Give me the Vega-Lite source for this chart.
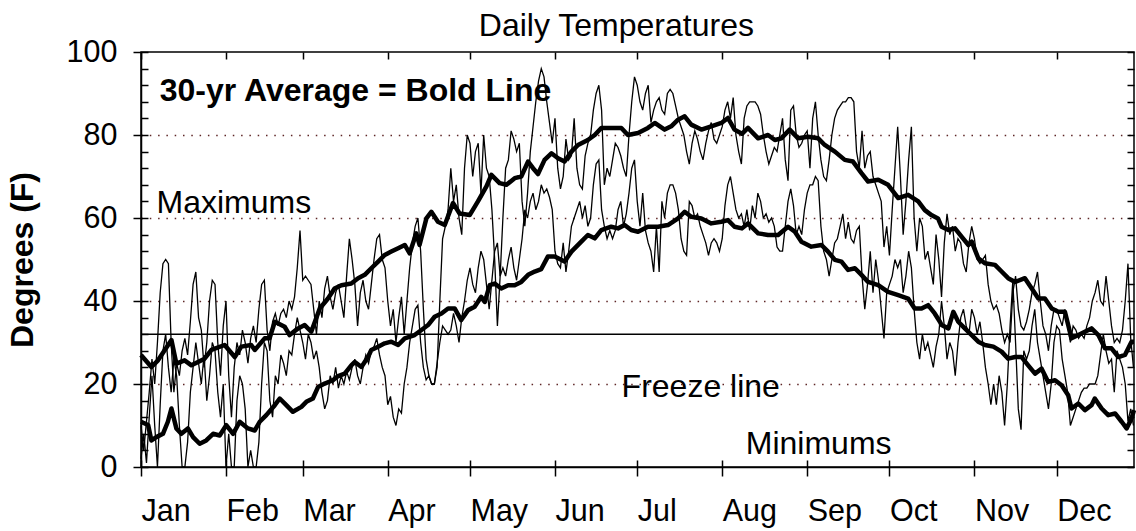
{
"$schema":"https://vega.github.io/schema/vega-lite/v6.json",
"width":993,"height":415,
"autosize":"none",
"padding":{"left":141,"top":52,"right":2,"bottom":64},
"background":"white",
"config":{"font":"Liberation Sans","view":{"stroke":"black","strokeWidth":1.5},"axis":{"domainColor":"black","tickColor":"black","labelColor":"black","titleColor":"black","domainWidth":1.5,"tickWidth":1.5,"grid":false}},
"datasets":{
"maxAvg":[{"d":0,"t":27.0},{"d":3.8,"t":24.1},{"d":6.2,"t":25.7},{"d":11.1,"t":30.6},{"d":12.9,"t":24.9},{"d":15.9,"t":25.7},{"d":18.4,"t":24.5},{"d":20.8,"t":25.3},{"d":23.2,"t":26.1},{"d":25.7,"t":28.2},{"d":30.5,"t":29.4},{"d":34.2,"t":26.5},{"d":36.6,"t":29.0},{"d":40.2,"t":29.4},{"d":41.5,"t":28.2},{"d":45.1,"t":31.0},{"d":46.9,"t":31.0},{"d":48.8,"t":35.0},{"d":52.4,"t":33.8},{"d":54.2,"t":31.8},{"d":57.3,"t":33.4},{"d":59.7,"t":34.2},{"d":62.1,"t":32.6},{"d":65.2,"t":38.2},{"d":68.2,"t":40.6},{"d":70.6,"t":43.0},{"d":73.1,"t":43.8},{"d":76.7,"t":44.2},{"d":79.2,"t":45.5},{"d":81.6,"t":46.3},{"d":84.0,"t":47.9},{"d":86.5,"t":49.5},{"d":88.9,"t":51.1},{"d":91.3,"t":51.9},{"d":93.8,"t":52.7},{"d":96.2,"t":53.5},{"d":98.0,"t":51.5},{"d":100.4,"t":56.3},{"d":101.6,"t":53.5},{"d":104.1,"t":59.9},{"d":105.9,"t":61.5},{"d":108.3,"t":59.1},{"d":110.8,"t":58.3},{"d":113.8,"t":63.6},{"d":116.2,"t":61.1},{"d":119.9,"t":60.7},{"d":122.9,"t":64.0},{"d":126.0,"t":67.6},{"d":127.8,"t":70.4},{"d":130.8,"t":68.4},{"d":133.3,"t":68.0},{"d":136.3,"t":69.6},{"d":138.7,"t":70.0},{"d":141.2,"t":73.6},{"d":143.0,"t":72.0},{"d":144.8,"t":70.6},{"d":147.2,"t":74.0},{"d":149.7,"t":75.6},{"d":152.1,"t":74.4},{"d":154.5,"t":73.6},{"d":157.0,"t":76.0},{"d":159.4,"t":77.6},{"d":163.0,"t":78.8},{"d":165.5,"t":80.0},{"d":167.9,"t":81.7},{"d":171.5,"t":81.7},{"d":175.2,"t":81.7},{"d":177.6,"t":80.0},{"d":181.3,"t":80.5},{"d":184.9,"t":81.7},{"d":187.4,"t":82.9},{"d":191.0,"t":81.3},{"d":193.4,"t":82.1},{"d":195.9,"t":83.7},{"d":198.3,"t":84.5},{"d":200.7,"t":82.5},{"d":204.4,"t":81.3},{"d":208.0,"t":82.1},{"d":211.7,"t":82.9},{"d":214.1,"t":84.1},{"d":216.5,"t":81.3},{"d":219.2,"t":80.3},{"d":221.4,"t":81.7},{"d":225.1,"t":79.2},{"d":228.7,"t":80.0},{"d":231.2,"t":78.8},{"d":233.6,"t":79.2},{"d":236.6,"t":81.3},{"d":239.7,"t":79.2},{"d":243.3,"t":79.6},{"d":247.0,"t":79.2},{"d":249.4,"t":77.6},{"d":253.1,"t":76.0},{"d":256.7,"t":74.0},{"d":259.7,"t":73.6},{"d":262.8,"t":70.8},{"d":265.2,"t":68.8},{"d":268.9,"t":69.2},{"d":272.5,"t":68.0},{"d":276.2,"t":64.8},{"d":279.8,"t":65.6},{"d":283.5,"t":64.0},{"d":285.9,"t":61.9},{"d":288.3,"t":60.7},{"d":290.7,"t":59.9},{"d":292.0,"t":57.9},{"d":294.5,"t":57.1},{"d":296.9,"t":57.5},{"d":299.3,"t":55.5},{"d":301.8,"t":53.5},{"d":303.0,"t":54.3},{"d":305.4,"t":50.3},{"d":307.8,"t":49.1},{"d":311.5,"t":48.7},{"d":313.9,"t":47.1},{"d":316.3,"t":45.5},{"d":318.8,"t":44.6},{"d":322.4,"t":45.5},{"d":324.9,"t":43.0},{"d":327.3,"t":40.6},{"d":329.7,"t":40.6},{"d":332.2,"t":38.2},{"d":334.6,"t":37.4},{"d":337.0,"t":37.4},{"d":338.2,"t":34.2},{"d":339.4,"t":31.0},{"d":341.9,"t":31.8},{"d":344.3,"t":32.6},{"d":346.7,"t":33.4},{"d":349.2,"t":31.8},{"d":351.6,"t":28.6},{"d":354.0,"t":28.6},{"d":356.5,"t":26.5},{"d":358.9,"t":27.0},{"d":361.3,"t":30.2},{"d":362.2,"t":30.2}],
"minAvg":[{"d":0,"t":10.9},{"d":2.6,"t":10.1},{"d":3.8,"t":6.4},{"d":5.6,"t":7.2},{"d":8.0,"t":8.0},{"d":9.8,"t":10.9},{"d":11.1,"t":14.1},{"d":12.9,"t":9.3},{"d":14.7,"t":8.0},{"d":17.1,"t":9.3},{"d":19.0,"t":7.2},{"d":21.4,"t":5.6},{"d":23.8,"t":6.4},{"d":26.3,"t":8.0},{"d":28.7,"t":7.6},{"d":31.1,"t":10.1},{"d":33.6,"t":8.0},{"d":36.0,"t":10.9},{"d":39.0,"t":9.3},{"d":41.5,"t":8.8},{"d":43.3,"t":10.9},{"d":45.7,"t":12.5},{"d":48.8,"t":14.9},{"d":50.6,"t":16.5},{"d":53.0,"t":14.9},{"d":55.4,"t":13.3},{"d":58.5,"t":14.5},{"d":60.3,"t":15.7},{"d":62.7,"t":16.5},{"d":64.6,"t":19.3},{"d":67.0,"t":20.1},{"d":70.0,"t":20.9},{"d":71.9,"t":21.9},{"d":74.3,"t":22.5},{"d":76.7,"t":24.5},{"d":78.0,"t":25.3},{"d":80.4,"t":24.1},{"d":82.8,"t":26.5},{"d":84.0,"t":28.2},{"d":86.5,"t":29.0},{"d":88.9,"t":29.8},{"d":91.3,"t":30.2},{"d":93.8,"t":29.4},{"d":96.2,"t":31.0},{"d":99.8,"t":31.8},{"d":102.3,"t":33.0},{"d":104.7,"t":34.2},{"d":107.1,"t":36.2},{"d":109.6,"t":37.0},{"d":112.0,"t":38.2},{"d":114.4,"t":38.2},{"d":116.8,"t":35.4},{"d":119.3,"t":37.8},{"d":121.7,"t":38.6},{"d":124.1,"t":41.0},{"d":125.4,"t":39.8},{"d":127.2,"t":43.8},{"d":129.0,"t":44.2},{"d":131.4,"t":43.0},{"d":133.9,"t":43.8},{"d":136.3,"t":43.8},{"d":138.7,"t":44.6},{"d":141.2,"t":46.3},{"d":143.6,"t":47.1},{"d":146.0,"t":47.7},{"d":148.4,"t":50.7},{"d":150.9,"t":50.7},{"d":154.5,"t":49.5},{"d":157.0,"t":51.9},{"d":160.6,"t":54.3},{"d":163.0,"t":55.9},{"d":165.5,"t":55.1},{"d":167.9,"t":57.1},{"d":171.5,"t":57.9},{"d":174.0,"t":57.5},{"d":176.4,"t":58.3},{"d":178.8,"t":57.1},{"d":181.3,"t":56.7},{"d":184.9,"t":57.9},{"d":188.6,"t":57.9},{"d":192.2,"t":58.3},{"d":195.9,"t":59.9},{"d":198.3,"t":61.5},{"d":200.7,"t":60.3},{"d":204.4,"t":59.9},{"d":208.0,"t":58.7},{"d":211.7,"t":59.1},{"d":214.1,"t":59.5},{"d":216.5,"t":57.9},{"d":219.2,"t":57.5},{"d":221.4,"t":58.7},{"d":225.1,"t":56.3},{"d":228.7,"t":55.9},{"d":232.4,"t":55.9},{"d":236.0,"t":57.9},{"d":238.5,"t":56.7},{"d":240.9,"t":54.3},{"d":244.5,"t":53.1},{"d":248.2,"t":53.5},{"d":250.6,"t":51.9},{"d":253.1,"t":49.9},{"d":255.5,"t":49.5},{"d":257.9,"t":47.5},{"d":260.4,"t":47.9},{"d":262.8,"t":46.3},{"d":265.2,"t":44.6},{"d":268.9,"t":43.8},{"d":272.5,"t":42.2},{"d":276.2,"t":41.4},{"d":279.8,"t":40.6},{"d":282.2,"t":38.2},{"d":284.7,"t":38.2},{"d":287.1,"t":39.0},{"d":289.5,"t":37.0},{"d":291.4,"t":35.0},{"d":292.0,"t":34.2},{"d":294.5,"t":33.4},{"d":296.3,"t":37.4},{"d":298.1,"t":35.0},{"d":300.5,"t":33.4},{"d":303.0,"t":31.8},{"d":305.4,"t":30.2},{"d":307.8,"t":29.4},{"d":310.9,"t":29.0},{"d":313.9,"t":27.8},{"d":316.3,"t":26.1},{"d":318.8,"t":26.5},{"d":321.2,"t":26.5},{"d":323.6,"t":24.5},{"d":326.1,"t":22.5},{"d":328.5,"t":23.7},{"d":330.9,"t":20.5},{"d":333.4,"t":20.9},{"d":335.8,"t":19.7},{"d":338.2,"t":17.3},{"d":339.4,"t":14.1},{"d":341.9,"t":15.3},{"d":344.3,"t":13.7},{"d":346.7,"t":14.9},{"d":347.9,"t":16.5},{"d":350.4,"t":14.1},{"d":352.8,"t":12.5},{"d":355.3,"t":12.9},{"d":357.7,"t":10.9},{"d":359.5,"t":9.3},{"d":361.3,"t":11.7},{"d":362.2,"t":13.7}],
"maxDay":[{"d":0,"t":10},{"d":1,"t":4},{"d":2,"t":11},{"d":3,"t":18},{"d":4,"t":26},{"d":5,"t":20},{"d":6,"t":30},{"d":7,"t":42},{"d":8,"t":49},{"d":9,"t":50},{"d":10,"t":49},{"d":11,"t":30},{"d":12,"t":18},{"d":13,"t":25},{"d":14,"t":22},{"d":15,"t":28},{"d":16,"t":31},{"d":17,"t":27},{"d":18,"t":35},{"d":19,"t":44},{"d":20,"t":47},{"d":21,"t":36},{"d":22,"t":33},{"d":23,"t":24},{"d":24,"t":30},{"d":25,"t":40},{"d":26,"t":45},{"d":27,"t":44},{"d":28,"t":30},{"d":29,"t":22},{"d":30,"t":34},{"d":31,"t":40},{"d":32,"t":22},{"d":33,"t":12},{"d":34,"t":24},{"d":35,"t":30},{"d":36,"t":27},{"d":37,"t":33},{"d":38,"t":30},{"d":39,"t":25},{"d":40,"t":31},{"d":41,"t":34},{"d":42,"t":30},{"d":43,"t":38},{"d":44,"t":44},{"d":45,"t":45},{"d":46,"t":33},{"d":47,"t":28},{"d":48,"t":35},{"d":49,"t":37},{"d":50,"t":34},{"d":51,"t":37},{"d":52,"t":38},{"d":53,"t":36},{"d":54,"t":40},{"d":55,"t":38},{"d":56,"t":41},{"d":57,"t":48},{"d":58,"t":57},{"d":59,"t":45},{"d":60,"t":46},{"d":61,"t":45},{"d":62,"t":44},{"d":63,"t":38},{"d":64,"t":32},{"d":65,"t":40},{"d":66,"t":36},{"d":67,"t":43},{"d":68,"t":46},{"d":69,"t":41},{"d":70,"t":38},{"d":71,"t":42},{"d":72,"t":44},{"d":73,"t":40},{"d":74,"t":36},{"d":75,"t":46},{"d":76,"t":55},{"d":77,"t":50},{"d":78,"t":44},{"d":79,"t":34},{"d":80,"t":42},{"d":81,"t":45},{"d":82,"t":40},{"d":83,"t":38},{"d":84,"t":44},{"d":85,"t":50},{"d":86,"t":55},{"d":87,"t":56},{"d":88,"t":50},{"d":89,"t":48},{"d":90,"t":40},{"d":91,"t":34},{"d":92,"t":38},{"d":93,"t":30},{"d":94,"t":36},{"d":95,"t":41},{"d":96,"t":32},{"d":97,"t":40},{"d":98,"t":48},{"d":99,"t":54},{"d":100,"t":58},{"d":101,"t":60},{"d":102,"t":52},{"d":103,"t":38},{"d":104,"t":26},{"d":105,"t":22},{"d":106,"t":20},{"d":107,"t":20},{"d":108,"t":24},{"d":109,"t":40},{"d":110,"t":55},{"d":111,"t":58},{"d":112,"t":62},{"d":113,"t":72},{"d":114,"t":64},{"d":115,"t":68},{"d":116,"t":60},{"d":117,"t":56},{"d":118,"t":72},{"d":119,"t":80},{"d":120,"t":78},{"d":121,"t":70},{"d":122,"t":76},{"d":123,"t":78},{"d":124,"t":66},{"d":125,"t":80},{"d":126,"t":72},{"d":127,"t":70},{"d":128,"t":62},{"d":129,"t":50},{"d":130,"t":34},{"d":131,"t":46},{"d":132,"t":60},{"d":133,"t":72},{"d":134,"t":74},{"d":135,"t":81},{"d":136,"t":79},{"d":137,"t":76},{"d":138,"t":78},{"d":139,"t":64},{"d":140,"t":58},{"d":141,"t":66},{"d":142,"t":76},{"d":143,"t":82},{"d":144,"t":88},{"d":145,"t":93},{"d":146,"t":96},{"d":147,"t":94},{"d":148,"t":88},{"d":149,"t":83},{"d":150,"t":78},{"d":151,"t":84},{"d":152,"t":72},{"d":153,"t":67},{"d":154,"t":70},{"d":155,"t":79},{"d":156,"t":74},{"d":157,"t":75},{"d":158,"t":84},{"d":159,"t":72},{"d":160,"t":68},{"d":161,"t":67},{"d":162,"t":75},{"d":163,"t":78},{"d":164,"t":80},{"d":165,"t":86},{"d":166,"t":90},{"d":167,"t":92},{"d":168,"t":86},{"d":169,"t":68},{"d":170,"t":72},{"d":171,"t":70},{"d":172,"t":74},{"d":173,"t":78},{"d":174,"t":77},{"d":175,"t":75},{"d":176,"t":72},{"d":177,"t":70},{"d":178,"t":80},{"d":179,"t":88},{"d":180,"t":94},{"d":181,"t":92},{"d":182,"t":88},{"d":183,"t":86},{"d":184,"t":90},{"d":185,"t":92},{"d":186,"t":83},{"d":187,"t":86},{"d":188,"t":88},{"d":189,"t":89},{"d":190,"t":86},{"d":191,"t":85},{"d":192,"t":90},{"d":193,"t":91},{"d":194,"t":90},{"d":195,"t":87},{"d":196,"t":84},{"d":197,"t":82},{"d":198,"t":80},{"d":199,"t":76},{"d":200,"t":73},{"d":201,"t":78},{"d":202,"t":81},{"d":203,"t":79},{"d":204,"t":76},{"d":205,"t":74},{"d":206,"t":78},{"d":207,"t":81},{"d":208,"t":83},{"d":209,"t":79},{"d":210,"t":78},{"d":211,"t":80},{"d":212,"t":82},{"d":213,"t":86},{"d":214,"t":88},{"d":215,"t":84},{"d":216,"t":89},{"d":217,"t":80},{"d":218,"t":76},{"d":219,"t":73},{"d":220,"t":84},{"d":221,"t":87},{"d":222,"t":88},{"d":223,"t":88},{"d":224,"t":88},{"d":225,"t":87},{"d":226,"t":85},{"d":227,"t":80},{"d":228,"t":76},{"d":229,"t":73},{"d":230,"t":75},{"d":231,"t":77},{"d":232,"t":76},{"d":233,"t":80},{"d":234,"t":84},{"d":235,"t":74},{"d":236,"t":69},{"d":237,"t":86},{"d":238,"t":87},{"d":239,"t":80},{"d":240,"t":77},{"d":241,"t":78},{"d":242,"t":80},{"d":243,"t":81},{"d":244,"t":72},{"d":245,"t":84},{"d":246,"t":88},{"d":247,"t":80},{"d":248,"t":74},{"d":249,"t":70},{"d":250,"t":69},{"d":251,"t":74},{"d":252,"t":80},{"d":253,"t":84},{"d":254,"t":86},{"d":255,"t":87},{"d":256,"t":88},{"d":257,"t":88},{"d":258,"t":89},{"d":259,"t":89},{"d":260,"t":88},{"d":261,"t":76},{"d":262,"t":72},{"d":263,"t":81},{"d":264,"t":72},{"d":265,"t":75},{"d":266,"t":76},{"d":267,"t":70},{"d":268,"t":68},{"d":269,"t":66},{"d":270,"t":64},{"d":271,"t":53},{"d":272,"t":58},{"d":273,"t":51},{"d":274,"t":62},{"d":275,"t":72},{"d":276,"t":82},{"d":277,"t":70},{"d":278,"t":56},{"d":279,"t":64},{"d":280,"t":74},{"d":281,"t":82},{"d":282,"t":60},{"d":283,"t":52},{"d":284,"t":60},{"d":285,"t":58},{"d":286,"t":50},{"d":287,"t":52},{"d":288,"t":48},{"d":289,"t":44},{"d":290,"t":56},{"d":291,"t":50},{"d":292,"t":41},{"d":293,"t":54},{"d":294,"t":61},{"d":295,"t":56},{"d":296,"t":58},{"d":297,"t":52},{"d":298,"t":55},{"d":299,"t":54},{"d":300,"t":49},{"d":301,"t":47},{"d":302,"t":54},{"d":303,"t":58},{"d":304,"t":55},{"d":305,"t":50},{"d":306,"t":49},{"d":307,"t":50},{"d":308,"t":51},{"d":309,"t":44},{"d":310,"t":40},{"d":311,"t":38},{"d":312,"t":39},{"d":313,"t":37},{"d":314,"t":33},{"d":315,"t":30},{"d":316,"t":32},{"d":317,"t":30},{"d":318,"t":42},{"d":319,"t":46},{"d":320,"t":38},{"d":321,"t":34},{"d":322,"t":33},{"d":323,"t":35},{"d":324,"t":38},{"d":325,"t":42},{"d":326,"t":44},{"d":327,"t":47},{"d":328,"t":40},{"d":329,"t":34},{"d":330,"t":32},{"d":331,"t":28},{"d":332,"t":34},{"d":333,"t":38},{"d":334,"t":38},{"d":335,"t":36},{"d":336,"t":34},{"d":337,"t":38},{"d":338,"t":34},{"d":339,"t":30},{"d":340,"t":34},{"d":341,"t":33},{"d":342,"t":31},{"d":343,"t":32},{"d":344,"t":31},{"d":345,"t":34},{"d":346,"t":36},{"d":347,"t":40},{"d":348,"t":42},{"d":349,"t":45},{"d":350,"t":40},{"d":351,"t":39},{"d":352,"t":46},{"d":353,"t":40},{"d":354,"t":34},{"d":355,"t":30},{"d":356,"t":31},{"d":357,"t":30},{"d":358,"t":33},{"d":359,"t":40},{"d":360,"t":49},{"d":361,"t":31},{"d":362,"t":24}],
"minDay":[{"d":0,"t":2},{"d":1,"t":8},{"d":2,"t":1},{"d":3,"t":12},{"d":4,"t":22},{"d":5,"t":10},{"d":6,"t":0},{"d":7,"t":15},{"d":8,"t":28},{"d":9,"t":32},{"d":10,"t":24},{"d":11,"t":18},{"d":12,"t":26},{"d":13,"t":22},{"d":14,"t":10},{"d":15,"t":0},{"d":16,"t":0},{"d":17,"t":6},{"d":18,"t":18},{"d":19,"t":24},{"d":20,"t":30},{"d":21,"t":25},{"d":22,"t":20},{"d":23,"t":27},{"d":24,"t":16},{"d":25,"t":22},{"d":26,"t":30},{"d":27,"t":28},{"d":28,"t":18},{"d":29,"t":12},{"d":30,"t":20},{"d":31,"t":0},{"d":32,"t":8},{"d":33,"t":0},{"d":34,"t":0},{"d":35,"t":16},{"d":36,"t":22},{"d":37,"t":20},{"d":38,"t":14},{"d":39,"t":0},{"d":40,"t":4},{"d":41,"t":0},{"d":42,"t":0},{"d":43,"t":6},{"d":44,"t":20},{"d":45,"t":30},{"d":46,"t":28},{"d":47,"t":16},{"d":48,"t":12},{"d":49,"t":22},{"d":50,"t":20},{"d":51,"t":27},{"d":52,"t":25},{"d":53,"t":22},{"d":54,"t":28},{"d":55,"t":27},{"d":56,"t":32},{"d":57,"t":36},{"d":58,"t":33},{"d":59,"t":30},{"d":60,"t":26},{"d":61,"t":32},{"d":62,"t":30},{"d":63,"t":26},{"d":64,"t":28},{"d":65,"t":24},{"d":66,"t":18},{"d":67,"t":14},{"d":68,"t":16},{"d":69,"t":22},{"d":70,"t":20},{"d":71,"t":24},{"d":72,"t":19},{"d":73,"t":22},{"d":74,"t":20},{"d":75,"t":23},{"d":76,"t":21},{"d":77,"t":24},{"d":78,"t":26},{"d":79,"t":22},{"d":80,"t":20},{"d":81,"t":24},{"d":82,"t":27},{"d":83,"t":25},{"d":84,"t":28},{"d":85,"t":29},{"d":86,"t":31},{"d":87,"t":27},{"d":88,"t":24},{"d":89,"t":22},{"d":90,"t":15},{"d":91,"t":17},{"d":92,"t":12},{"d":93,"t":10},{"d":94,"t":14},{"d":95,"t":13},{"d":96,"t":20},{"d":97,"t":24},{"d":98,"t":30},{"d":99,"t":34},{"d":100,"t":38},{"d":101,"t":39},{"d":102,"t":30},{"d":103,"t":24},{"d":104,"t":21},{"d":105,"t":22},{"d":106,"t":20},{"d":107,"t":20},{"d":108,"t":25},{"d":109,"t":30},{"d":110,"t":34},{"d":111,"t":33},{"d":112,"t":32},{"d":113,"t":33},{"d":114,"t":37},{"d":115,"t":34},{"d":116,"t":30},{"d":117,"t":36},{"d":118,"t":40},{"d":119,"t":45},{"d":120,"t":48},{"d":121,"t":44},{"d":122,"t":42},{"d":123,"t":48},{"d":124,"t":52},{"d":125,"t":50},{"d":126,"t":44},{"d":127,"t":38},{"d":128,"t":45},{"d":129,"t":52},{"d":130,"t":54},{"d":131,"t":46},{"d":132,"t":48},{"d":133,"t":46},{"d":134,"t":50},{"d":135,"t":53},{"d":136,"t":48},{"d":137,"t":45},{"d":138,"t":50},{"d":139,"t":55},{"d":140,"t":62},{"d":141,"t":60},{"d":142,"t":64},{"d":143,"t":66},{"d":144,"t":62},{"d":145,"t":64},{"d":146,"t":68},{"d":147,"t":66},{"d":148,"t":67},{"d":149,"t":65},{"d":150,"t":62},{"d":151,"t":52},{"d":152,"t":49},{"d":153,"t":48},{"d":154,"t":54},{"d":155,"t":47},{"d":156,"t":52},{"d":157,"t":58},{"d":158,"t":60},{"d":159,"t":62},{"d":160,"t":64},{"d":161,"t":60},{"d":162,"t":63},{"d":163,"t":58},{"d":164,"t":60},{"d":165,"t":68},{"d":166,"t":73},{"d":167,"t":74},{"d":168,"t":62},{"d":169,"t":58},{"d":170,"t":55},{"d":171,"t":57},{"d":172,"t":55},{"d":173,"t":57},{"d":174,"t":62},{"d":175,"t":64},{"d":176,"t":58},{"d":177,"t":61},{"d":178,"t":66},{"d":179,"t":72},{"d":180,"t":74},{"d":181,"t":64},{"d":182,"t":58},{"d":183,"t":66},{"d":184,"t":57},{"d":185,"t":54},{"d":186,"t":52},{"d":187,"t":47},{"d":188,"t":58},{"d":189,"t":47},{"d":190,"t":64},{"d":191,"t":60},{"d":192,"t":66},{"d":193,"t":68},{"d":194,"t":68},{"d":195,"t":66},{"d":196,"t":62},{"d":197,"t":55},{"d":198,"t":52},{"d":199,"t":51},{"d":200,"t":64},{"d":201,"t":63},{"d":202,"t":60},{"d":203,"t":61},{"d":204,"t":58},{"d":205,"t":56},{"d":206,"t":54},{"d":207,"t":51},{"d":208,"t":54},{"d":209,"t":55},{"d":210,"t":54},{"d":211,"t":52},{"d":212,"t":55},{"d":213,"t":63},{"d":214,"t":68},{"d":215,"t":70},{"d":216,"t":66},{"d":217,"t":62},{"d":218,"t":60},{"d":219,"t":61},{"d":220,"t":58},{"d":221,"t":62},{"d":222,"t":57},{"d":223,"t":63},{"d":224,"t":60},{"d":225,"t":66},{"d":226,"t":64},{"d":227,"t":60},{"d":228,"t":61},{"d":229,"t":59},{"d":230,"t":60},{"d":231,"t":58},{"d":232,"t":53},{"d":233,"t":52},{"d":234,"t":52},{"d":235,"t":58},{"d":236,"t":64},{"d":237,"t":67},{"d":238,"t":63},{"d":239,"t":56},{"d":240,"t":58},{"d":241,"t":56},{"d":242,"t":62},{"d":243,"t":66},{"d":244,"t":68},{"d":245,"t":68},{"d":246,"t":70},{"d":247,"t":69},{"d":248,"t":58},{"d":249,"t":52},{"d":250,"t":50},{"d":251,"t":46},{"d":252,"t":50},{"d":253,"t":54},{"d":254,"t":55},{"d":255,"t":58},{"d":256,"t":61},{"d":257,"t":55},{"d":258,"t":59},{"d":259,"t":55},{"d":260,"t":54},{"d":261,"t":57},{"d":262,"t":58},{"d":263,"t":46},{"d":264,"t":38},{"d":265,"t":44},{"d":266,"t":52},{"d":267,"t":42},{"d":268,"t":50},{"d":269,"t":45},{"d":270,"t":38},{"d":271,"t":31},{"d":272,"t":42},{"d":273,"t":44},{"d":274,"t":46},{"d":275,"t":50},{"d":276,"t":48},{"d":277,"t":50},{"d":278,"t":42},{"d":279,"t":46},{"d":280,"t":52},{"d":281,"t":48},{"d":282,"t":38},{"d":283,"t":30},{"d":284,"t":26},{"d":285,"t":32},{"d":286,"t":28},{"d":287,"t":30},{"d":288,"t":27},{"d":289,"t":24},{"d":290,"t":29},{"d":291,"t":32},{"d":292,"t":40},{"d":293,"t":34},{"d":294,"t":26},{"d":295,"t":30},{"d":296,"t":28},{"d":297,"t":22},{"d":298,"t":30},{"d":299,"t":36},{"d":300,"t":38},{"d":301,"t":34},{"d":302,"t":32},{"d":303,"t":38},{"d":304,"t":36},{"d":305,"t":32},{"d":306,"t":35},{"d":307,"t":30},{"d":308,"t":24},{"d":309,"t":20},{"d":310,"t":15},{"d":311,"t":20},{"d":312,"t":15},{"d":313,"t":22},{"d":314,"t":18},{"d":315,"t":10},{"d":316,"t":20},{"d":317,"t":34},{"d":318,"t":45},{"d":319,"t":30},{"d":320,"t":14},{"d":321,"t":9},{"d":322,"t":28},{"d":323,"t":26},{"d":324,"t":28},{"d":325,"t":34},{"d":326,"t":38},{"d":327,"t":30},{"d":328,"t":26},{"d":329,"t":22},{"d":330,"t":18},{"d":331,"t":14},{"d":332,"t":20},{"d":333,"t":30},{"d":334,"t":34},{"d":335,"t":33},{"d":336,"t":26},{"d":337,"t":22},{"d":338,"t":18},{"d":339,"t":10},{"d":340,"t":12},{"d":341,"t":14},{"d":342,"t":16},{"d":343,"t":18},{"d":344,"t":19},{"d":345,"t":19},{"d":346,"t":20},{"d":347,"t":20},{"d":348,"t":20},{"d":349,"t":22},{"d":350,"t":27},{"d":351,"t":32},{"d":352,"t":28},{"d":353,"t":25},{"d":354,"t":26},{"d":355,"t":18},{"d":356,"t":28},{"d":357,"t":26},{"d":358,"t":24},{"d":359,"t":20},{"d":360,"t":11},{"d":361,"t":14},{"d":362,"t":10}]
},
"resolve":{"axis":{"x":"independent","y":"independent"}},
"layer":[
{"data":{"values":[{"t":32}]},
 "mark":{"type":"rule","stroke":"black","strokeWidth":1.5},
 "encoding":{"y":{"field":"t","type":"quantitative","scale":{"domain":[0,100],"nice":false,"zero":false},
   "axis":{"orient":"left","values":[20,40,60,80],"grid":true,"gridColor":"#5e2626","gridDash":[1.5,6.8],"gridWidth":1.5,"ticks":false,"labels":false,"domain":false,"title":null}}}},
{"data":{"name":"maxDay"},
 "mark":{"type":"line","stroke":"black","strokeWidth":1.3,"strokeJoin":"miter"},
 "encoding":{
  "x":{"field":"d","type":"quantitative","scale":{"domain":[0,362.2],"nice":false,"zero":false},
   "axis":{"orient":"bottom","values":[0,31,59,90,120,151,181,212,243,273,304,334],"labelExpr":"['Jan','Feb','Mar','Apr','May','Jun','Jul','Aug','Sep','Oct','Nov','Dec'][indexof([0,31,59,90,120,151,181,212,243,273,304,334], datum.value)]","labelAlign":"left","labelDx":-4,"labelFontSize":30.5,"labelPadding":20,"labelBaseline":"top","labelFlush":false,"labelOverlap":false,"tickSize":9,"title":null}},
  "y":{"field":"t","type":"quantitative","scale":{"domain":[0,100],"nice":false,"zero":false},
   "axis":{"orient":"left","values":[0,20,40,60,80,100],"labelFontSize":30.5,"labelPadding":16,"labelFlush":false,"labelOverlap":false,"tickSize":8,"title":"Degrees (F)","titleFontSize":32,"titleFontWeight":"bold","titlePadding":27}}}},
{"data":{"name":"minDay"},
 "mark":{"type":"line","stroke":"black","strokeWidth":1.3},
 "encoding":{
  "x":{"field":"d","type":"quantitative","scale":{"domain":[0,362.2],"nice":false,"zero":false},
   "axis":{"orient":"top","values":[0,31,59,90,120,151,181,212,243,273,304,334],"labels":false,"tickSize":-7,"domain":false,"title":null}},
  "y":{"field":"t","type":"quantitative","scale":{"domain":[0,100],"nice":false,"zero":false},
   "axis":{"orient":"right","values":[0,4,8,12,16,20,24,28,32,36,40,44,48,52,56,60,64,68,72,76,80,84,88,92,96,100],"labels":false,"tickSize":-7,"domain":false,"title":null}}}},
{"data":{"name":"maxAvg"},
 "mark":{"type":"line","stroke":"black","strokeWidth":4.5,"strokeJoin":"round"},
 "encoding":{
  "x":{"field":"d","type":"quantitative","scale":{"domain":[0,362.2],"nice":false,"zero":false},
   "axis":{"orient":"bottom","values":[0,31,59,90,120,151,181,212,243,273,304,334],"labels":false,"tickSize":-7,"domain":false,"title":null}},
  "y":{"field":"t","type":"quantitative","scale":{"domain":[0,100],"nice":false,"zero":false},
   "axis":{"orient":"left","values":[0,4,8,12,16,20,24,28,32,36,40,44,48,52,56,60,64,68,72,76,80,84,88,92,96,100],"labels":false,"tickSize":-7,"domain":false,"title":null}}}},
{"data":{"name":"minAvg"},
 "mark":{"type":"line","stroke":"black","strokeWidth":4.5,"strokeJoin":"round"},
 "encoding":{
  "x":{"field":"d","type":"quantitative","scale":{"domain":[0,362.2],"nice":false,"zero":false},"axis":null},
  "y":{"field":"t","type":"quantitative","scale":{"domain":[0,100],"nice":false,"zero":false},"axis":null}}},
{"data":{"values":[{"d":5.65,"t":61.1,"label":"Maximums","a":"left"},{"d":175.3,"t":16.9,"label":"Freeze line","a":"left"},{"d":220.6,"t":3.2,"label":"Minimums","a":"left"}]},
 "mark":{"type":"text","align":"left","baseline":"alphabetic","fontSize":32,"font":"Liberation Sans","color":"black"},
 "encoding":{
  "x":{"field":"d","type":"quantitative","scale":{"domain":[0,362.2],"nice":false,"zero":false},"axis":null},
  "y":{"field":"t","type":"quantitative","scale":{"domain":[0,100],"nice":false,"zero":false},"axis":null},
  "text":{"field":"label"}}},
{"data":{"values":[{"d":173.4,"t":103.9,"label":"Daily Temperatures"}]},
 "mark":{"type":"text","align":"center","baseline":"alphabetic","fontSize":32,"font":"Liberation Sans","color":"black"},
 "encoding":{
  "x":{"field":"d","type":"quantitative","scale":{"domain":[0,362.2],"nice":false,"zero":false},"axis":null},
  "y":{"field":"t","type":"quantitative","scale":{"domain":[0,100],"nice":false,"zero":false},"axis":null},
  "text":{"field":"label"}}},
{"data":{"values":[{"d":6.85,"t":88.2,"label":"30-yr Average = Bold Line"}]},
 "mark":{"type":"text","align":"left","baseline":"alphabetic","fontSize":32,"fontWeight":"bold","font":"Liberation Sans","color":"black"},
 "encoding":{
  "x":{"field":"d","type":"quantitative","scale":{"domain":[0,362.2],"nice":false,"zero":false},"axis":null},
  "y":{"field":"t","type":"quantitative","scale":{"domain":[0,100],"nice":false,"zero":false},"axis":null},
  "text":{"field":"label"}}}
]
}
